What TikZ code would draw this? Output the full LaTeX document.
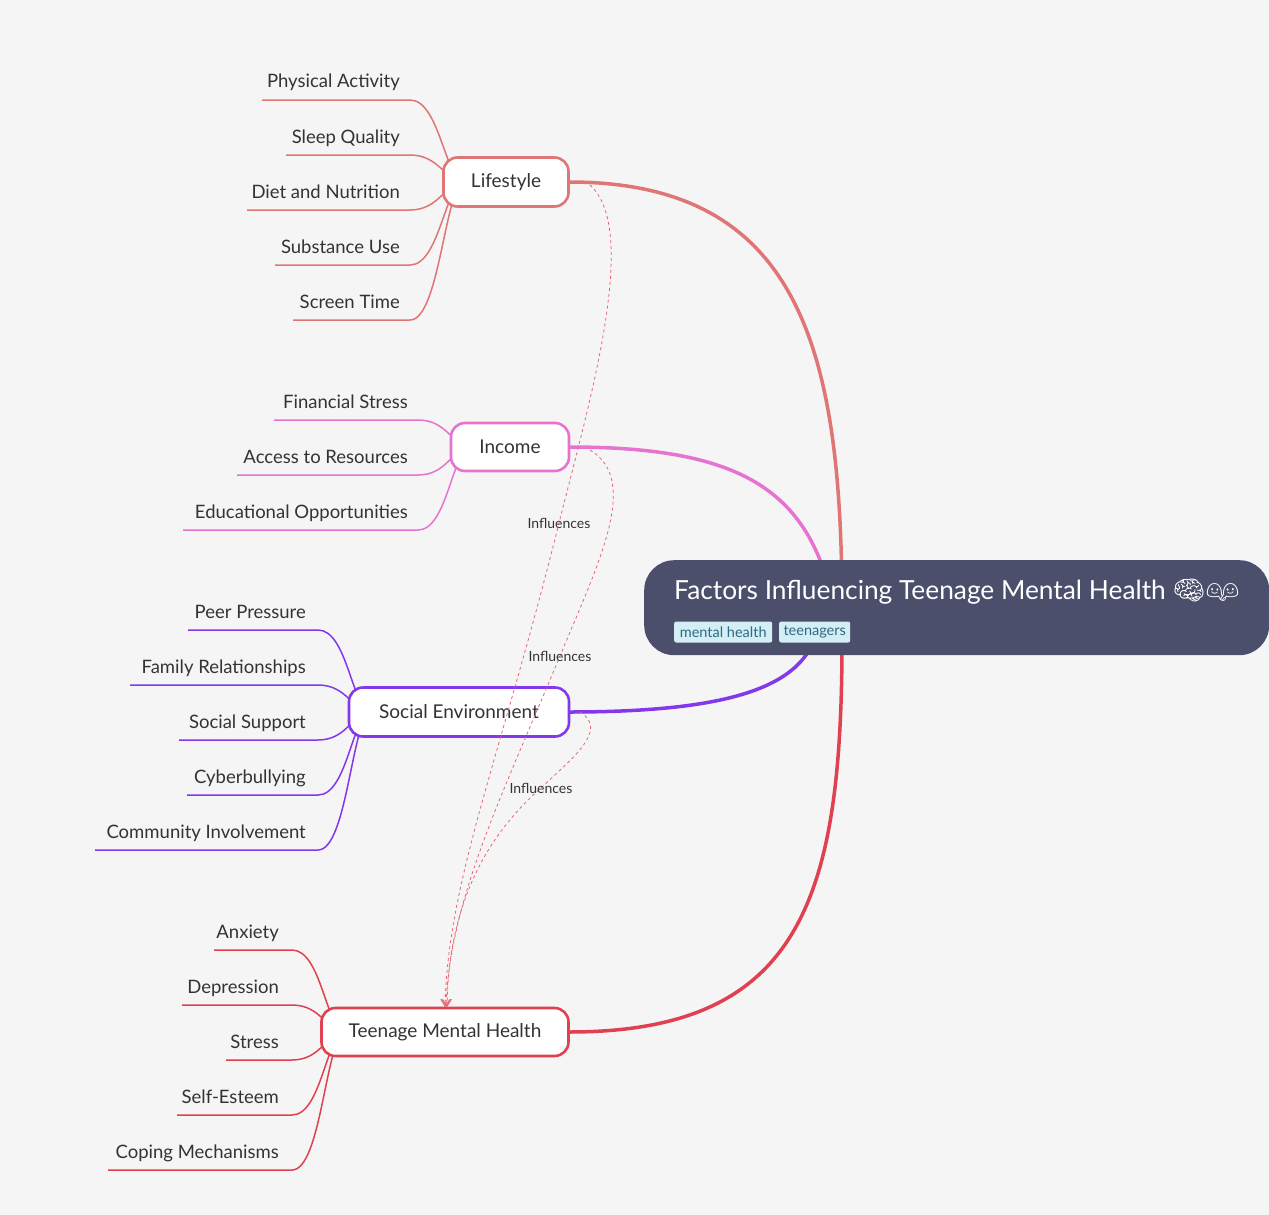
\documentclass[tikz,border=0pt]{standalone}
\usepackage{fontspec}
\setmainfont{Lato}
\newfontfamily\emo{Noto Emoji}
\usetikzlibrary{arrows.meta}
\definecolor{bg}{HTML}{F5F5F5}
\definecolor{cl}{HTML}{DF7575}
\definecolor{ci}{HTML}{E673D0}
\definecolor{cs}{HTML}{8338EC}
\definecolor{ct}{HTML}{E04050}
\definecolor{rootc}{HTML}{4B4F6B}
\definecolor{tagc}{HTML}{D4EEF5}
\definecolor{tagt}{HTML}{2E6B80}
\definecolor{txt}{HTML}{333333}
\tikzset{
 x=1pt,y=-1pt,
 child/.style={draw=#1,line width=2.6pt,fill=white,rounded corners=14pt,font=\fontsize{19}{20}\selectfont,text=txt,inner sep=0pt},
 leaf/.style={font=\fontsize{18.5}{20}\selectfont,text=txt,inner sep=0pt,anchor=base east},
 ln/.style={draw=#1,line width=1.5pt},
 main/.style={draw=#1,line width=3.5pt},
 infl/.style={draw=ct!80,dashed,line width=0.8pt,-{Straight Barb[length=7pt,width=9pt]}},
 lab/.style={font=\fontsize{14}{16}\selectfont,text=txt,inner sep=1pt},
 tag/.style={fill=tagc,rounded corners=2pt,text=tagt,font=\fontsize{14.5}{16}\selectfont,inner sep=0pt,minimum height=21pt}
}
\begin{document}
\begin{tikzpicture}
\fill[bg] (0,0) rectangle (1269,1215);
\useasboundingbox (0,0) rectangle (1269,1215);
% main edges
\draw[main=cl] (569,182) .. controls (800,182) and (842,350) .. (842,610);
\draw[main=ci] (569,447) .. controls (720,447) and (790,480) .. (822,565);
\draw[main=cs] (569,712) .. controls (720,712) and (790,690) .. (812,645);
\draw[main=ct] (569,1032) .. controls (800,1032) and (842,900) .. (842,640);
% root
\node[fill=rootc,rounded corners=30pt,minimum width=625pt,minimum height=95pt,anchor=north west] (root) at (644,560) {};
\node[anchor=base west,text=white,font=\fontsize{26.3}{30}\selectfont,inner sep=0] (rt) at (674,599) {Factors Influencing Teenage Mental Health {\emo 🧠👫}};
\node[tag,anchor=west,minimum width=98pt] (t1) at (674,632) {mental health};
\node[tag,anchor=west,minimum width=71pt] (t2) at (779,632) {teenagers};
% leaves
\foreach \t/\y/\l in {Physical Activity/100/262,Sleep Quality/155/286,Diet and Nutrition/210/247,Substance Use/265/275,Screen Time/320/293}{
 \node[leaf] (n\y) at (400,\y-12) {\t};
 \draw[ln=cl] (\l,\y) -- (410,\y) .. controls (440,\y) and (445,182) .. (465,182);
}
\foreach \t/\y/\l in {Financial Stress/420/274,Access to Resources/475/237,Educational Opportunities/530/183}{
 \node[leaf] (n\y) at (408,\y-12) {\t};
 \draw[ln=ci] (\l,\y) -- (418,\y) .. controls (448,\y) and (452,447) .. (472,447);
}
\foreach \t/\y/\l in {Peer Pressure/630/188,Family Relationships/685/130,Social Support/740/179,Cyberbullying/795/187,Community Involvement/850/95}{
 \node[leaf] (n\y) at (306,\y-12) {\t};
 \draw[ln=cs] (\l,\y) -- (318,\y) .. controls (348,\y) and (352,712) .. (372,712);
}
\foreach \t/\y/\l in {Anxiety/950/214,Depression/1005/182,Stress/1060/226,Self-Esteem/1115/177,Coping Mechanisms/1170/108}{
 \node[leaf] (n\y) at (279,\y-12) {\t};
 \draw[ln=ct] (\l,\y) -- (292,\y) .. controls (322,\y) and (326,1032) .. (346,1032);
}
% children
\node[child=cl,minimum width=125pt,minimum height=49pt] (life) at (506,182) {Lifestyle};
\node[child=ci,minimum width=118pt,minimum height=48pt] (inc) at (510,447) {Income};
\node[child=cs,minimum width=220pt,minimum height=49pt] (soc) at (459,712) {Social Environment};
\node[child=ct,minimum width=247pt,minimum height=48pt] (tmh) at (445,1032) {Teenage Mental Health};
% influences
\draw[infl] (590,185) .. controls (640,230) and (590,400) .. (559,523) .. controls (500,760) and (448,880) .. (445,1007);
\node[lab] (l1) at (559,523) {Influences};
\draw[infl] (590,450) .. controls (640,480) and (600,560) .. (560,656) .. controls (500,800) and (450,900) .. (446,1007);
\node[lab] (l2) at (560,656) {Influences};
\draw[infl] (580,712) .. controls (610,730) and (570,760) .. (541,788) .. controls (470,850) and (448,930) .. (447,1007);
\node[lab] (l3) at (541,788) {Influences};
\end{tikzpicture}
\end{document}
